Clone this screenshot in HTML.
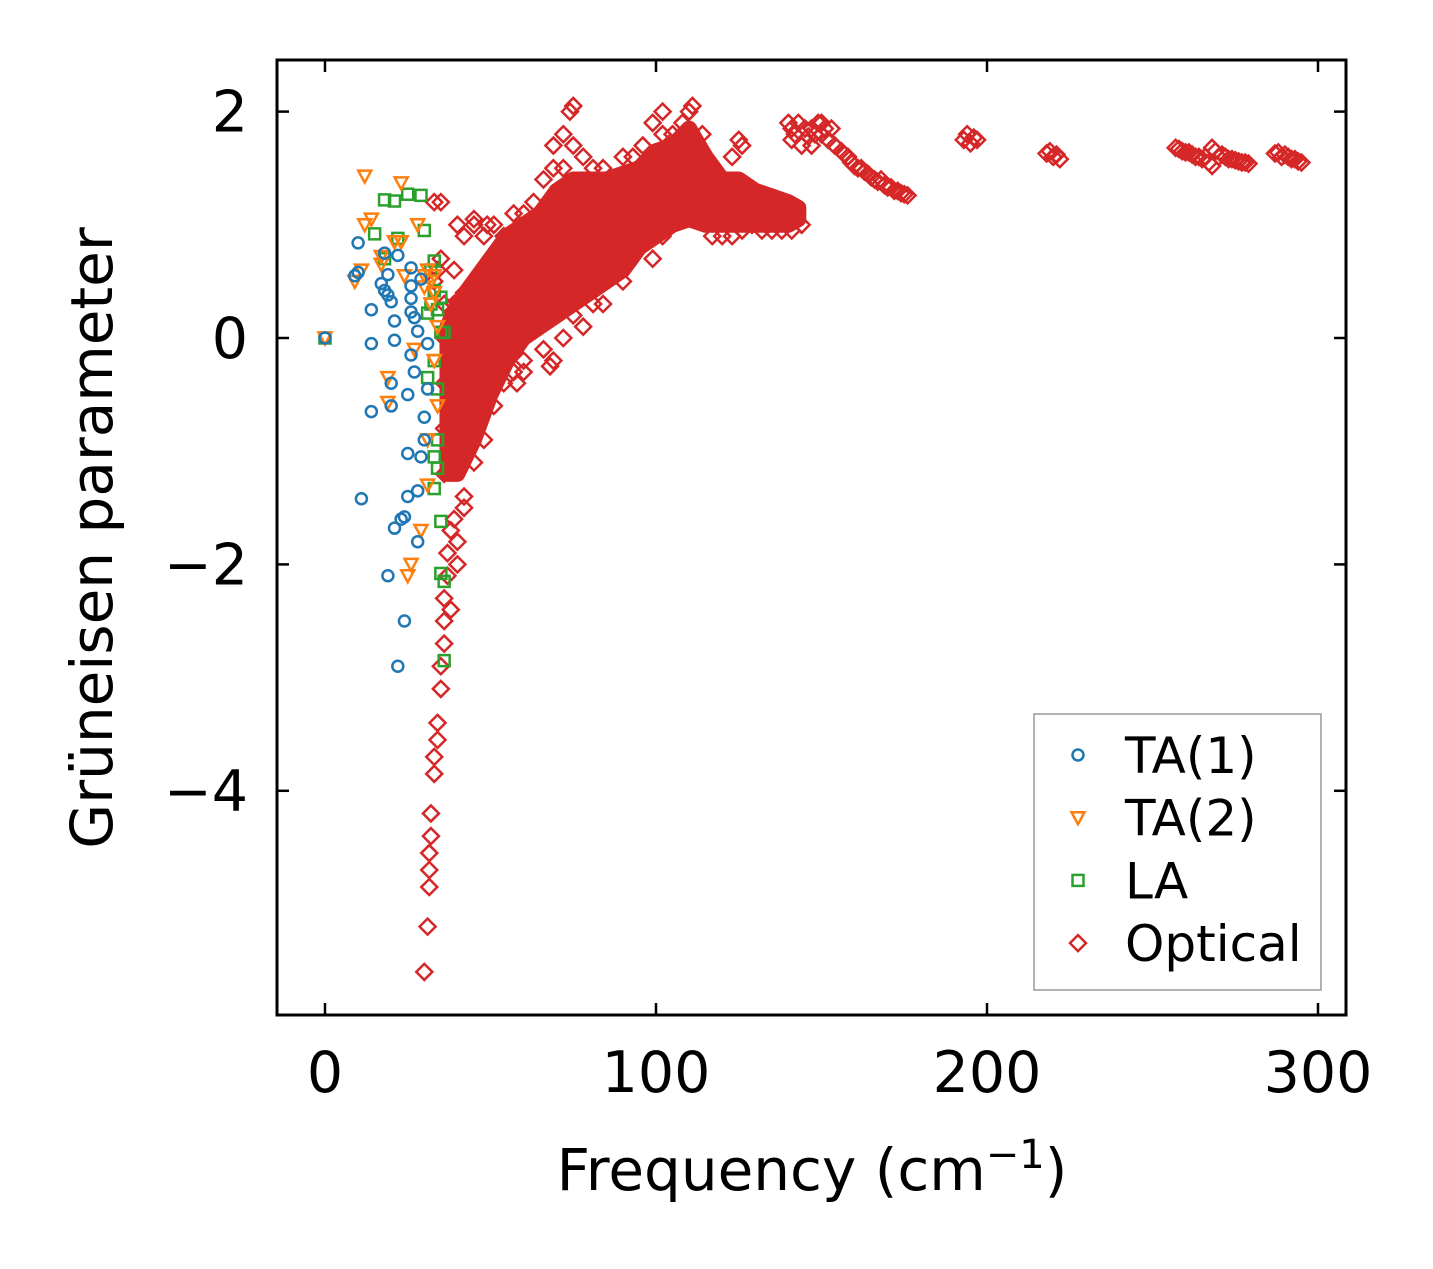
<!DOCTYPE html>
<html><head><meta charset="utf-8"><style>
body{margin:0;background:#fff;}
text{font-family:"DejaVu Sans","Liberation Sans",sans-serif;fill:#000;}
</style></head><body>
<svg id="chart" width="1433" height="1264" viewBox="0 0 1433 1264" xmlns="http://www.w3.org/2000/svg">
<rect width="1433" height="1264" fill="#fff"/>
<g id="marks"></g>
<rect x="277" y="60" width="1069" height="955" fill="none" stroke="#000" stroke-width="3"/>
<g id="axes"></g>
<text x="812" y="1190" font-size="58" text-anchor="middle">Frequency (cm<tspan font-size="40" dy="-22">−1</tspan><tspan dy="22">)</tspan></text>
<text transform="translate(112,538) rotate(-90)" font-size="58" text-anchor="middle">Grüneisen parameter</text>
<g>
<rect x="1034" y="714" width="287" height="276" fill="#fff" stroke="#999" stroke-width="1.5"/>
<g id="legend-items"></g>
</g>
</svg>
<script>
const xTicks=[0,100,200,300];
const yTicks=[2,0,-2,-4];
const yTickLabels=["2","0","−2","−4"];
const ta1=[[0,0],[9,0.55],[10,0.58],[10,0.84],[11,-1.42],[14,0.25],[14,-0.05],[14,-0.65],[17,0.48],[18,0.42],[18,0.75],[19,0.38],[19,0.56],[19,-2.1],[20,0.32],[20,-0.4],[20,-0.6],[21,0.15],[21,-1.68],[21,-0.02],[22,0.73],[22,-2.9],[23,-1.6],[24,-2.5],[24,-1.58],[25,-1.4],[25,-1.02],[25,-0.5],[26,-0.15],[26,0.23],[26,0.35],[26,0.46],[26,0.62],[27,-0.3],[27,0.18],[28,0.06],[28,-1.35],[28,-1.8],[29,-1.05],[29,0.52],[30,-0.7],[30,-0.9],[31,-0.45],[31,-0.05]];
const ta2=[[0,0],[9,0.5],[11,0.6],[12,1.43],[12,1.0],[14,1.05],[17,0.72],[17,0.65],[19,-0.35],[19,-0.57],[21,0.85],[23,1.37],[23,0.85],[24,0.55],[25,-2.1],[26,-2.0],[27,-0.1],[28,1.0],[29,-1.7],[30,0.55],[30,0.45],[31,-1.3],[31,-0.9],[32,0.5],[33,0.55],[33,-0.2],[34,-0.6],[34,0.1],[32,0.3],[33,0.4],[31,0.6]];
const la=[[0,0],[15,0.92],[18,1.22],[18,0.7],[21,1.21],[22,0.88],[25,1.27],[29,1.26],[30,0.95],[31,0.22],[31,-0.35],[32,0.3],[33,0.68],[33,-0.2],[33,-1.05],[33,-1.33],[34,-0.9],[34,-1.15],[34,-0.45],[35,-1.62],[35,-2.08],[36,-2.15],[36,-2.85],[35,0.05],[36,0.05],[34,0.25],[35,0.36],[32,0.6],[33,0.42]];
const coreX=[37,40,45,50,55,60,65,70,75,80,85,90,95,100,105,110,115,120,125,130,135,140,143];
const coreLow=[-1.2,-1.2,-0.9,-0.5,-0.2,0.0,0.1,0.2,0.3,0.4,0.5,0.6,0.8,0.9,1.0,1.05,1.0,1.0,1.0,1.0,1.0,1.0,1.05];
const coreHigh=[0.1,0.3,0.5,0.7,0.9,1.0,1.1,1.3,1.4,1.4,1.4,1.45,1.5,1.65,1.7,1.85,1.6,1.4,1.4,1.3,1.25,1.2,1.15];
const optical=[[36,-1.2],[36,-0.8],[36,-0.4],[36,0],[36,0.3],[39,-1.6],[39,-1.0],[39,0.3],[39,0.6],[42,-1.4],[42,0.4],[42,0.9],[45,-1.1],[45,0.5],[45,1.0],[48,-0.9],[48,0.9],[51,-0.6],[51,1.0],[54,-0.4],[54,0.9],[57,-0.3],[57,1.1],[60,-0.2],[60,1.1],[63,1.2],[66,-0.1],[66,1.4],[69,-0.2],[69,1.5],[69,1.7],[72,0],[72,1.5],[72,1.8],[75,0.2],[75,1.7],[75,2.05],[74,2.0],[78,0.1],[78,1.6],[81,0.3],[81,1.5],[84,0.3],[84,1.5],[87,0.6],[90,0.5],[90,1.6],[93,1.6],[96,1.7],[99,0.7],[99,1.9],[102,1.8],[102,2.0],[105,1.8],[108,1.9],[111,2.05],[110,2.0],[114,1.8],[117,0.9],[120,0.9],[123,0.9],[123,1.6],[125,1.75],[126,0.95],[126,1.7],[129,1.0],[132,0.95],[135,0.95],[138,0.95],[141,0.95],[144,1.0],[140,1.9],[141,1.85],[141,1.75],[142,1.8],[143,1.9],[144,1.7],[145,1.85],[146,1.78],[147,1.7],[147,1.85],[148,1.8],[149,1.9],[150,1.8],[150,1.9],[151,1.85],[152,1.75],[153,1.85],[154,1.7],[156,1.65],[157,1.62],[158,1.6],[159,1.55],[160,1.52],[161,1.5],[162,1.5],[163,1.47],[164,1.45],[165,1.42],[166,1.4],[167,1.38],[168,1.4],[169,1.35],[170,1.33],[171,1.33],[172,1.3],[173,1.3],[174,1.28],[175,1.27],[176,1.26],[193,1.75],[194,1.8],[195,1.72],[196,1.77],[197,1.75],[218,1.63],[219,1.65],[220,1.6],[221,1.62],[222,1.58],[257,1.68],[258,1.67],[259,1.65],[260,1.64],[261,1.64],[262,1.62],[263,1.6],[264,1.6],[265,1.58],[266,1.6],[267,1.55],[268,1.52],[268,1.68],[269,1.65],[270,1.6],[271,1.62],[272,1.6],[273,1.58],[274,1.58],[275,1.57],[276,1.56],[277,1.55],[278,1.55],[279,1.54],[287,1.63],[288,1.64],[289,1.6],[290,1.62],[291,1.6],[292,1.58],[293,1.58],[294,1.56],[295,1.55],[30,-5.6],[31,-5.2],[31.5,-4.85],[31.5,-4.7],[31.5,-4.55],[32,-4.4],[32,-4.2],[33,-3.85],[33,-3.7],[34,-3.4],[34,-3.55],[35,-3.1],[35,-2.9],[36,-2.7],[36,-2.5],[36,-2.3],[37,-2.1],[37,-1.9],[38,-2.4],[38,-1.7],[40,-2.0],[40,-1.8],[42,-1.5],[33,1.2],[35,1.2],[40,1.0],[45,1.05],[49,1.0],[60,-0.3],[68,-0.25],[58,-0.4],[102,0.9],[74,1.2],[33,0.5],[34,0.6],[35,0.7]];
const legendLabels=["TA(1)","TA(2)","LA","Optical"];
const legendColors=["#1f77b4","#ff7f0e","#2ca02c","#d62728"];
const NS="http://www.w3.org/2000/svg";
const sx=v=>325+v*3.31;
const sy=v=>338-v*113.2;
const marks=document.getElementById('marks');
const axes=document.getElementById('axes');
function mk(tag,attrs,parent){const e=document.createElementNS(NS,tag);for(const k in attrs)e.setAttribute(k,attrs[k]);parent.appendChild(e);return e;}
function marker(type,x,y,color,parent){
  let e;
  if(type==='circle')e=mk('circle',{cx:x,cy:y,r:5.5,fill:'none',stroke:color,'stroke-width':2.5},parent);
  else if(type==='tri')e=mk('path',{d:`M${x-6.5},${y-5.5}L${x+6.5},${y-5.5}L${x},${y+6.5}Z`,fill:'none',stroke:color,'stroke-width':2.5},parent);
  else if(type==='sq')e=mk('rect',{x:x-5.5,y:y-5.5,width:11,height:11,fill:'none',stroke:color,'stroke-width':2.5},parent);
  else e=mk('path',{d:`M${x},${y-8}L${x+8},${y}L${x},${y+8}L${x-8},${y}Z`,fill:'none',stroke:color,'stroke-width':2.5},parent);
  return e;
}
let d='';
coreX.forEach((x,i)=>{d+=(i?'L':'M')+sx(x)+','+sy(coreHigh[i]);});
for(let i=coreX.length-1;i>=0;i--)d+='L'+sx(coreX[i])+','+sy(coreLow[i]);
const core=mk('path',{d:d+'Z',fill:'#d62728',stroke:'#d62728','stroke-width':16,'stroke-linejoin':'round'},marks);


optical.forEach(p=>{const e=marker('dia',sx(p[0]),sy(p[1]),'#d62728',marks);

});
la.forEach(p=>{const e=marker('sq',sx(p[0]),sy(p[1]),'#2ca02c',marks);

});
ta2.forEach(p=>{const e=marker('tri',sx(p[0]),sy(p[1]),'#ff7f0e',marks);

});
ta1.forEach(p=>{const e=marker('circle',sx(p[0]),sy(p[1]),'#1f77b4',marks);

});
xTicks.forEach(t=>{const x=sx(t);
mk('line',{x1:x,x2:x,y1:1015,y2:1003,stroke:'#000','stroke-width':2.5},axes);
mk('line',{x1:x,x2:x,y1:60,y2:72,stroke:'#000','stroke-width':2.5},axes);
const tx=mk('text',{x:x,y:1092,'font-size':57,'text-anchor':'middle'},axes);tx.textContent=t;

});
yTicks.forEach((t,i)=>{const y=sy(t);
mk('line',{x1:277,x2:289,y1:y,y2:y,stroke:'#000','stroke-width':2.5},axes);
mk('line',{x1:1346,x2:1334,y1:y,y2:y,stroke:'#000','stroke-width':2.5},axes);
const tx=mk('text',{x:248,y:y+20,'font-size':57,'text-anchor':'end'},axes);tx.textContent=yTickLabels[i];

});
const li=document.getElementById('legend-items');
const types=['circle','tri','sq','dia'];
legendLabels.forEach((l,i)=>{const y=755+i*62.7;
const m=marker(types[i],1078,y,legendColors[i],li);


const t=mk('text',{x:1125,y:y+18,'font-size':50},li);t.textContent=l;

});
</script>
</body></html>
